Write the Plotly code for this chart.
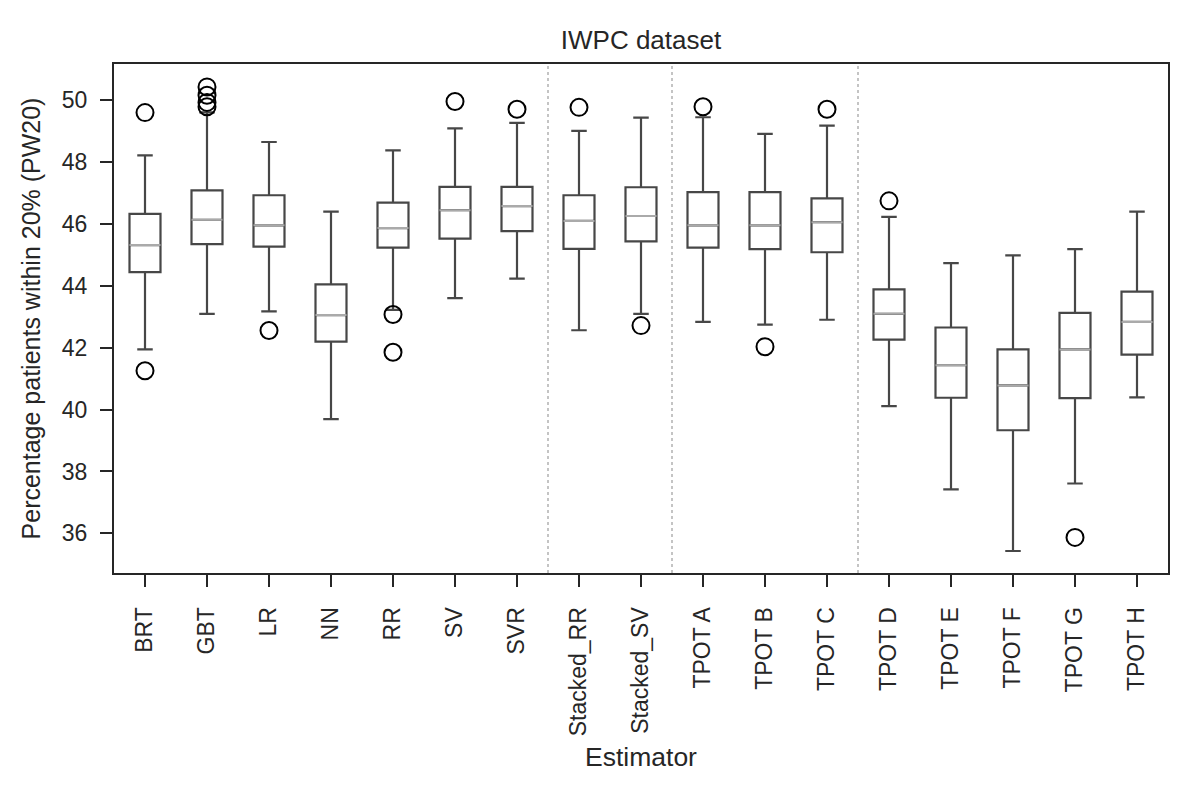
import plotly.graph_objects as go

# ---- data ----
estimators = ["BRT", "GBT", "LR", "NN", "RR", "SV", "SVR", "Stacked_RR", "Stacked_SV",
              "TPOT A", "TPOT B", "TPOT C", "TPOT D", "TPOT E", "TPOT F", "TPOT G", "TPOT H"]
lower_whisker = [41.94, 43.09, 43.17, 39.69, 43.22, 43.60, 44.23, 42.56, 43.09,
                 42.83, 42.74, 42.90, 40.11, 37.42, 35.43, 37.61, 40.39]
q1 = [44.44, 45.34, 45.26, 42.19, 45.23, 45.52, 45.76, 45.19, 45.43,
      45.23, 45.18, 45.08, 42.26, 40.38, 39.33, 40.37, 41.77]
median = [45.31, 46.13, 45.95, 43.05, 45.86, 46.44, 46.57, 46.09, 46.25,
          45.95, 45.95, 46.05, 43.09, 41.43, 40.78, 41.94, 42.83]
q3 = [46.32, 47.08, 46.92, 44.04, 46.68, 47.19, 47.19, 46.92, 47.18,
      47.02, 47.02, 46.82, 43.88, 42.65, 41.94, 43.12, 43.81]
upper_whisker = [48.21, 49.60, 48.64, 46.39, 48.37, 49.08, 49.26, 49.00, 49.43,
                 49.44, 48.90, 49.17, 46.22, 44.73, 44.98, 45.18, 46.39]
outlier_est = ["BRT", "BRT", "GBT", "GBT", "GBT", "GBT", "LR", "RR", "RR", "SV", "SVR",
               "Stacked_RR", "Stacked_SV", "TPOT A", "TPOT B", "TPOT C", "TPOT D", "TPOT G"]
outlier_val = [49.59, 41.25, 50.42, 50.15, 49.92, 49.78, 42.55, 43.07, 41.85, 49.95, 49.70,
               49.76, 42.71, 49.78, 42.03, 49.70, 46.74, 35.87]
group_sizes = [7, 2, 3, 5]
y_ticks = [36, 38, 40, 42, 44, 46, 48, 50]

FONT = "Liberation Sans, Arial, sans-serif"
TXT = "#262626"

fig = go.Figure()
fig.add_trace(go.Box(
    x=estimators, q1=q1, median=median, q3=q3,
    lowerfence=lower_whisker, upperfence=upper_whisker,
    width=0.5, whiskerwidth=0.5,
    line=dict(color="#474747", width=2.2), fillcolor="white",
    boxpoints=False, showlegend=False, hoverinfo="skip",
))
# median lines drawn in light grey (degenerate boxes at the median)
fig.add_trace(go.Box(
    x=estimators, q1=median, median=median, q3=median,
    lowerfence=median, upperfence=median,
    width=0.5, whiskerwidth=1,
    line=dict(color="#aaaaaa", width=2), fillcolor="rgba(0,0,0,0)",
    boxpoints=False, showlegend=False, hoverinfo="skip",
))
fig.add_trace(go.Scatter(
    x=outlier_est, y=outlier_val, mode="markers",
    marker=dict(symbol="circle-open", size=17, color="black", line=dict(width=2, color="black")),
    showlegend=False, hoverinfo="skip",
))

# dotted separators between estimator groups
pos = -0.5
for g in group_sizes[:-1]:
    pos += g
    fig.add_shape(type="line", xref="x", yref="paper", x0=pos, x1=pos, y0=0, y1=1,
                  line=dict(color="#c4c4c4", width=2, dash="dot"), layer="below")

fig.update_layout(
    width=1180, height=782,
    margin=dict(l=106, r=20, t=56, b=217),
    paper_bgcolor="white", plot_bgcolor="white",
    boxmode="overlay",
    font=dict(family=FONT, color=TXT, size=23),
    title=dict(text="IWPC dataset", x=0.5, xref="paper", xanchor="center",
               y=1, yref="paper", yanchor="bottom", pad=dict(b=15),
               font=dict(family=FONT, size=26, color=TXT)),
)
fig.update_xaxes(
    type="category", categoryorder="array", categoryarray=estimators,
    range=[-0.5, len(estimators) - 0.5],
    tickangle=-90, ticks="outside", ticklen=12, tickwidth=2, tickcolor=TXT,
    ticklabelstandoff=11,
    showline=True, linecolor=TXT, linewidth=2, mirror=True, showgrid=False, zeroline=False,
    tickfont=dict(family=FONT, size=23, color=TXT),
    title=dict(text="Estimator", font=dict(family=FONT, size=26.5, color=TXT), standoff=12),
)
fig.update_yaxes(
    range=[34.72, 51.16], tickvals=y_ticks,
    ticks="outside", ticklen=12, tickwidth=2, tickcolor=TXT,
    ticklabelstandoff=8,
    showline=True, linecolor=TXT, linewidth=2, mirror=True, showgrid=False, zeroline=False,
    tickfont=dict(family=FONT, size=23, color=TXT),
    title=dict(text="Percentage patients within 20% (PW20)",
               font=dict(family=FONT, size=25, color=TXT), standoff=14),
)

fig.write_html("out.html")
